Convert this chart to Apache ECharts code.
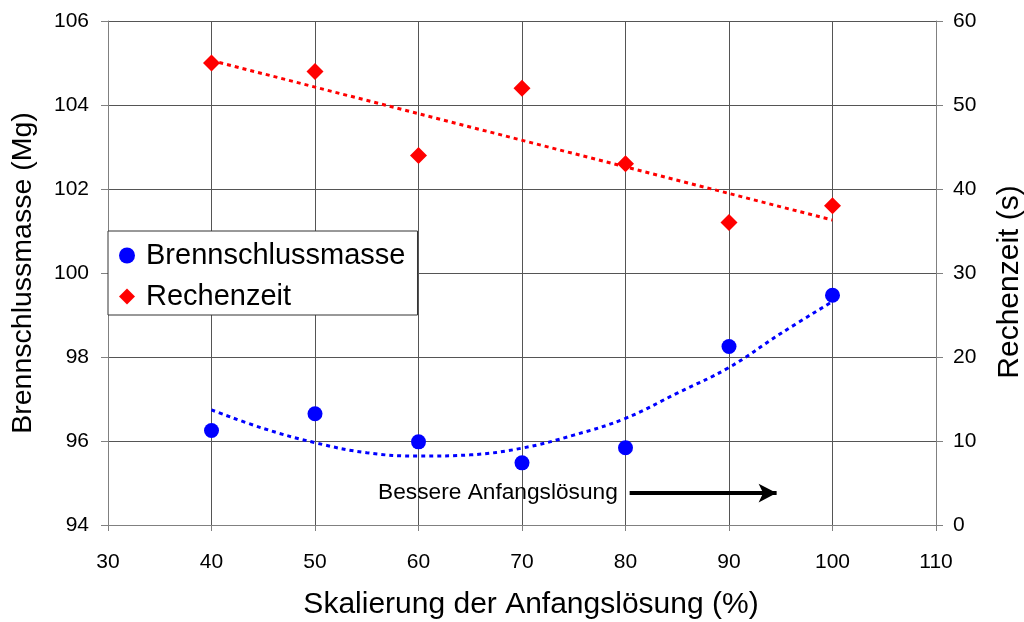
<!DOCTYPE html>
<html>
<head>
<meta charset="utf-8">
<title>Brennschlussmasse und Rechenzeit</title>
<script src="https://cdn.jsdelivr.net/npm/echarts@6/dist/echarts.min.js"></script>
<style>
  html, body { margin: 0; padding: 0; background: #ffffff; }
  #chart { width: 1024px; height: 622px; }
</style>
</head>
<body>
<div id="chart"></div>
<script>
// Scaling of the initial guess (%)
const scaling = [40, 50, 60, 70, 80, 90, 100];
// Burnout mass (Mg), left axis
const brennschlussmasse = [96.25, 96.65, 95.98, 95.48, 95.84, 98.25, 99.47];
// Computing time (s), right axis
const rechenzeit = [55, 54, 44, 52, 43, 36, 38];

// Quadratic trend of the burnout mass
const massTrendX = [40, 45, 50, 55, 60, 65, 70, 75, 80, 85, 90, 95, 100];
const massTrendY = [96.74, 96.30, 95.96, 95.72, 95.64, 95.67, 95.83, 96.14, 96.54, 97.14, 97.75, 98.56, 99.32];
// Linear trend of the computing time
const timeTrendX = [40, 100];
const timeTrendY = [55.3, 36.3];

// Annotation "better initial guess" with arrow
const noteText = 'Bessere Anfangslösung';
const noteEndX = 79.3;
const arrowFromX = 80.4;
const arrowToX = 94.6;
const noteY = 94.76;

const pairs = (xs, ys) => xs.map((x, i) => [x, ys[i]]);

const FONT = "'Liberation Sans', Arial, sans-serif";
const GRID_COLOR = '#555555';
const AXIS_COLOR = '#808080';

const chart = echarts.init(document.getElementById('chart'), null, { renderer: 'canvas' });

chart.setOption({
  animation: false,
  backgroundColor: '#ffffff',
  textStyle: { fontFamily: FONT, color: '#000' },
  grid: { left: 108, right: 88, top: 21, bottom: 97, containLabel: false, outerBoundsMode: 'none' },
  legend: {
    orient: 'vertical',
    left: 108,
    top: 231,
    padding: [10, 12, 4, 11],
    itemGap: 12,
    itemWidth: 16,
    itemHeight: 16,
    backgroundColor: '#ffffff',
    borderColor: '#333333',
    borderWidth: 1,
    borderRadius: 0,
    data: [
      { name: 'Brennschlussmasse', icon: 'circle' },
      { name: 'Rechenzeit', icon: 'diamond' }
    ],
    textStyle: { fontFamily: FONT, fontSize: 29, color: '#000', padding: [0, 0, 0, 6] }
  },
  xAxis: {
    type: 'value',
    min: 30,
    max: 110,
    interval: 10,
    name: 'Skalierung der Anfangslösung (%)',
    nameLocation: 'middle',
    nameGap: 65,
    nameTextStyle: { fontFamily: FONT, fontSize: 30, color: '#000', padding: [0, 0, 0, 18] },
    axisLine: { show: true, lineStyle: { color: AXIS_COLOR, width: 1 } },
    axisTick: { show: true, length: 6, lineStyle: { color: AXIS_COLOR } },
    axisLabel: { fontFamily: FONT, fontSize: 21, color: '#000', margin: 27 },
    splitLine: { show: true, lineStyle: { color: GRID_COLOR, width: 1 } }
  },
  yAxis: [
    {
      type: 'value',
      min: 94,
      max: 106,
      interval: 2,
      position: 'left',
      name: 'Brennschlussmasse (Mg)',
      nameLocation: 'middle',
      nameGap: 70,
      nameTextStyle: { fontFamily: FONT, fontSize: 28.5, color: '#000' },
      axisLine: { show: true, lineStyle: { color: AXIS_COLOR, width: 1 } },
      axisTick: { show: true, length: 7, lineStyle: { color: AXIS_COLOR } },
      axisLabel: { fontFamily: FONT, fontSize: 21, color: '#000', margin: 19 },
      splitLine: { show: true, lineStyle: { color: GRID_COLOR, width: 1 } }
    },
    {
      type: 'value',
      min: 0,
      max: 60,
      interval: 10,
      position: 'right',
      name: 'Rechenzeit (s)',
      nameLocation: 'middle',
      nameGap: 59,
      nameTextStyle: { fontFamily: FONT, fontSize: 30, color: '#000', padding: [0, 18, 0, 0] },
      axisLine: { show: true, lineStyle: { color: AXIS_COLOR, width: 1 } },
      axisTick: { show: true, length: 7, lineStyle: { color: AXIS_COLOR } },
      axisLabel: { fontFamily: FONT, fontSize: 21, color: '#000', margin: 17 },
      splitLine: { show: false }
    }
  ],
  series: [
    {
      name: 'Massentrend',
      type: 'line',
      yAxisIndex: 0,
      data: pairs(massTrendX, massTrendY),
      smooth: 0.4,
      showSymbol: false,
      symbol: 'none',
      silent: true,
      z: 2,
      lineStyle: { color: '#0000ff', width: 3, type: [4, 4] }
    },
    {
      name: 'Zeittrend',
      type: 'line',
      yAxisIndex: 1,
      data: pairs(timeTrendX, timeTrendY),
      showSymbol: false,
      symbol: 'none',
      silent: true,
      z: 2,
      lineStyle: { color: '#ff0000', width: 3, type: [4, 4] }
    },
    {
      name: 'Brennschlussmasse',
      type: 'scatter',
      yAxisIndex: 0,
      data: pairs(scaling, brennschlussmasse),
      symbol: 'circle',
      symbolSize: 15,
      z: 3,
      itemStyle: { color: '#0000ff', opacity: 1 },
      markLine: {
        silent: true,
        symbol: ['none', 'arrow'],
        symbolSize: [14, 18],
        label: { show: false },
        lineStyle: { color: '#000', width: 4, type: 'solid' },
        data: [[{ coord: [arrowFromX, noteY] }, { coord: [arrowToX, noteY] }]]
      },
      markPoint: {
        silent: true,
        symbol: 'circle',
        symbolSize: 1,
        itemStyle: { color: 'rgba(0,0,0,0)' },
        label: {
          show: true,
          position: 'left',
          distance: 0,
          formatter: noteText,
          fontFamily: FONT,
          fontSize: 22.7,
          color: '#000'
        },
        data: [{ coord: [noteEndX, noteY] }]
      }
    },
    {
      name: 'Rechenzeit',
      type: 'scatter',
      yAxisIndex: 1,
      data: pairs(scaling, rechenzeit),
      symbol: 'diamond',
      symbolSize: 17,
      z: 3,
      itemStyle: { color: '#ff0000', opacity: 1 }
    }
  ]
});
</script>
</body>
</html>
